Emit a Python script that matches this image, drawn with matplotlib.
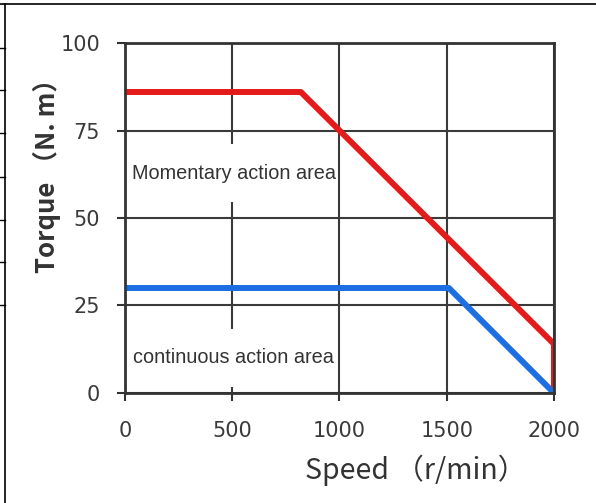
# Torque / speed curve of the motor
# momentary and continuous working areas

import matplotlib.pyplot as plt
from matplotlib.lines import Line2D

# data
speed_peak = [0, 820, 2000, 2000]
torque_peak = [86, 86, 14, 0]
speed_cont = [0, 1510, 2000]
torque_cont = [30, 30, 0]
x_ticks = [0, 500, 1000, 1500, 2000]
y_ticks = [0, 25, 50, 75, 100]
peak_label = "Momentary action area"
cont_label = "continuous action area"

cjk = ["Noto Sans CJK SC", "DejaVu Sans"]

fig = plt.figure(figsize=(5.96, 5.03), dpi=100)
ax = fig.add_axes([0.2097, 0.2187, 0.7198, 0.6958])

# curves
ax.plot(speed_peak, torque_peak, color="#e31b1b", lw=4.3, solid_capstyle="butt", zorder=4)
ax.plot(speed_cont, torque_cont, color="#1c6fe3", lw=4.3, solid_capstyle="butt", zorder=4)

ax.set_xlim(0, 2000)
ax.set_ylim(0, 100)
ax.set_xticks(x_ticks)
ax.set_yticks(y_ticks)
ax.grid(True, color="#3a3a3a", lw=1.5, zorder=1)
ax.set_axisbelow(True)
for s in ax.spines.values():
    s.set_color("#333333")
    s.set_linewidth(2)
    s.set_zorder(5)
ax.tick_params(direction="out", length=6, width=1.5, color="#333333",
               labelsize=15, labelcolor="#3a3a3a")
ax.tick_params(axis="x", pad=14.5)
ax.tick_params(axis="y", pad=12)
for lab in ax.get_xticklabels() + ax.get_yticklabels():
    lab.set_family("DejaVu Sans")

ax.set_xlabel("Speed （r/min）", family=cjk, fontsize=20.5, color="#333333")
ax.xaxis.set_label_coords(0.678, -0.176)
ax.set_ylabel("Torque （N. m）", family=cjk, fontsize=18.5, fontweight="bold",
              color="#333333")
ax.yaxis.set_label_coords(-0.148, 0.64)

# area names, white box hides the grid behind them
box = dict(boxstyle="square,pad=0.05", facecolor="white", edgecolor="none")
ax.text(0.017, 0.628, "\n" + peak_label + "\n", transform=ax.transAxes, va="center",
        ha="left", fontsize=14.3, family="Liberation Sans", color="#333333",
        linespacing=0.95, bbox=box, zorder=3)
ax.text(0.018, 0.1, "\n" + cont_label + "\n", transform=ax.transAxes, va="center",
        ha="left", fontsize=14.3, family="Liberation Sans", color="#333333",
        linespacing=0.95, bbox=box, zorder=3)

# page frame around the chart
W, H = 596.0, 503.0
fig.add_artist(Line2D([0, 1], [1 - 4 / H, 1 - 4 / H], color="black", lw=1.2))
fig.add_artist(Line2D([5 / W, 5 / W], [0, 1 - 4 / H], color="black", lw=1.2))
for yy in [48, 90, 133, 177, 220, 262, 305]:
    fig.add_artist(Line2D([0, 5 / W], [1 - yy / H, 1 - yy / H], color="black", lw=1.0))

plt.savefig("out.png", dpi=100)
